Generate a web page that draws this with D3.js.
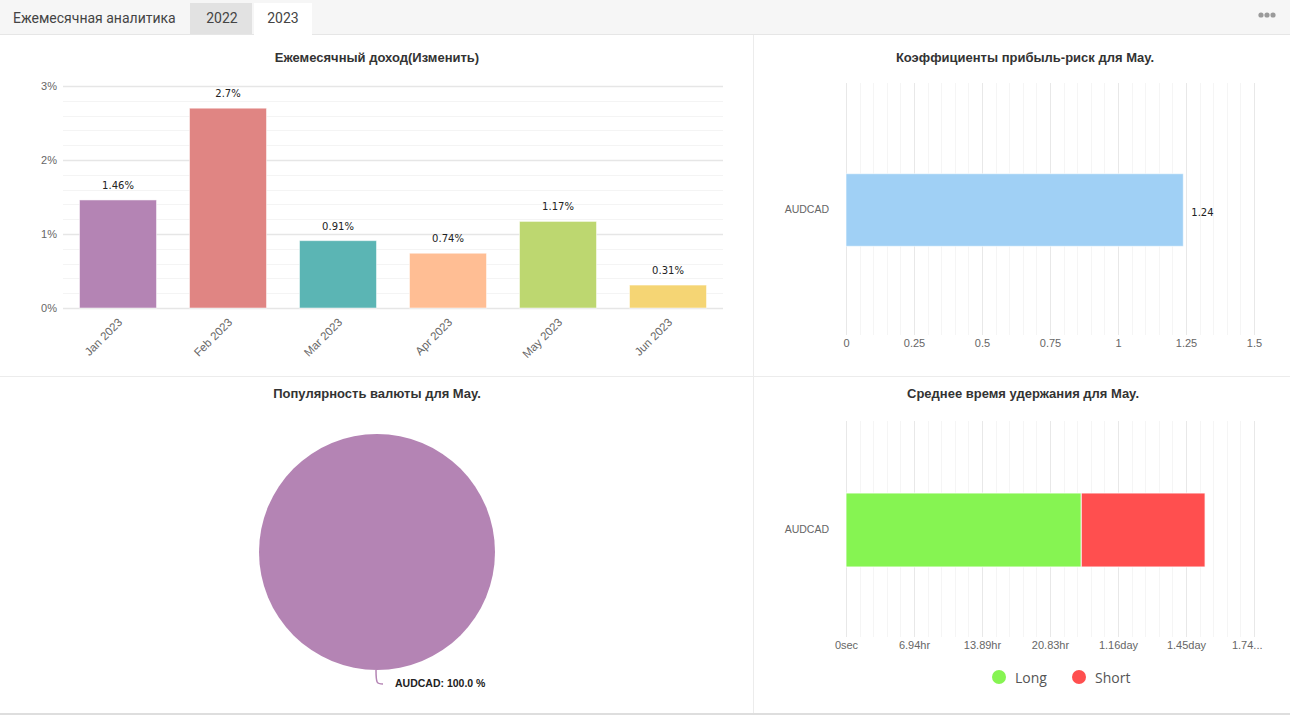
<!DOCTYPE html>
<html>
<head>
<meta charset="utf-8">
<script src="https://cdn.jsdelivr.net/npm/d3@7"></script>
<style>
body { margin: 0; background: #fff; }
svg { display: block; }
.title { font: bold 13px "Liberation Sans", Arial, sans-serif; fill: #333; text-anchor: middle; }
.tick text { font: 11px "Liberation Sans", Arial, sans-serif; fill: #666; }
.val { font: 10px "DejaVu Sans", sans-serif; fill: #222; }
</style>
</head>
<body>
<svg id="canvas" width="1290" height="715"></svg>
<script>
// --- data
const months = ['Jan 2023', 'Feb 2023', 'Mar 2023', 'Apr 2023', 'May 2023', 'Jun 2023'];
const monthlyReturns = [1.46, 2.7, 0.91, 0.74, 1.17, 0.31];
const monthColors = ['#b484b4', '#e08583', '#5bb5b4', '#ffbe94', '#bdd770', '#f5d574'];
const yTicks = [0, 1, 2, 3];

const riskPairs = ['AUDCAD'];
const riskValues = [1.24];
const riskTicks = [0, 0.25, 0.5, 0.75, 1, 1.25, 1.5];

const popPairs = ['AUDCAD'];
const popShares = [100];
const popColors = ['#b484b4'];

const holdPairs = ['AUDCAD'];
const holdLong = [86500];   // seconds
const holdShort = [45500];
const holdTicks = [0, 25000, 50000, 75000, 100000, 125000, 150000];
const holdSeries = ['Long', 'Short'];
const holdColors = ['#86f452', '#ff4f4f'];

const svg = d3.select('#canvas');

// --- header / tabs
svg.append('rect').attr('x', 0).attr('y', 0).attr('width', 1290).attr('height', 34).attr('fill', '#f6f6f6');
svg.append('line').attr('x1', 0).attr('x2', 1290).attr('y1', 34.5).attr('y2', 34.5).attr('stroke', '#e6e6e6');
svg.append('rect').attr('x', 190).attr('y', 3).attr('width', 62).attr('height', 31).attr('fill', '#e2e2e2');
svg.append('rect').attr('x', 254).attr('y', 3).attr('width', 58).attr('height', 32).attr('fill', '#fff');
const tabFont = '14px Roboto, sans-serif';
svg.append('text').attr('x', 13).attr('y', 23).style('font', tabFont).attr('fill', '#444').text('Ежемесячная аналитика');
svg.append('text').attr('x', 222).attr('y', 23).attr('text-anchor', 'middle').style('font', tabFont).attr('fill', '#444').text('2022');
svg.append('text').attr('x', 283).attr('y', 23).attr('text-anchor', 'middle').style('font', tabFont).attr('fill', '#444').text('2023');
[1261, 1267, 1273].forEach(cx => svg.append('circle').attr('cx', cx).attr('cy', 15).attr('r', 2.6).attr('fill', '#9a9a9a'));

// panel dividers
svg.append('line').attr('x1', 753.5).attr('x2', 753.5).attr('y1', 35).attr('y2', 713).attr('stroke', '#ececec');
svg.append('line').attr('x1', 0).attr('x2', 1290).attr('y1', 376.5).attr('y2', 376.5).attr('stroke', '#ececec');
svg.append('rect').attr('x', 0).attr('y', 713).attr('width', 1290).attr('height', 2).attr('fill', '#dedede');

// --- chart 1: monthly return
{
  const g = svg.append('g');
  g.append('text').attr('class', 'title').attr('x', 377).attr('y', 62).text('Ежемесячный доход(Изменить)');
  const x = d3.scaleBand().domain(months).range([63, 723]).paddingInner(0.3).paddingOuter(0.15);
  const y = d3.scaleLinear().domain([0, 3]).range([308, 86]);

  g.selectAll('line.minor').data(d3.range(0, 3.01, 0.2)).join('line')
    .attr('x1', 63).attr('x2', 723)
    .attr('y1', d => Math.round(y(d)) + 0.5).attr('y2', d => Math.round(y(d)) + 0.5)
    .attr('stroke', d => yTicks.includes(Math.round(d * 10) / 10) ? '#e6e6e6' : '#f4f4f4')
    .attr('stroke-width', d => yTicks.includes(Math.round(d * 10) / 10) ? 1.5 : 1);

  g.append('g').attr('transform', 'translate(63,0)')
    .call(d3.axisLeft(y).tickValues(yTicks).tickFormat(d => d + '%').tickSize(0).tickPadding(6))
    .call(a => a.select('.domain').remove());

  g.selectAll('rect.bar').data(monthlyReturns).join('rect')
    .attr('x', (d, i) => x(months[i])).attr('width', x.bandwidth())
    .attr('y', d => y(d)).attr('height', d => y(0) - y(d))
    .attr('fill', (d, i) => monthColors[i])
    .attr('stroke', 'rgba(255,255,255,0.5)');

  g.selectAll('text.val').data(monthlyReturns).join('text').attr('class', 'val')
    .attr('x', (d, i) => x(months[i]) + x.bandwidth() / 2).attr('y', d => y(d) - 11)
    .attr('text-anchor', 'middle').text(d => d + '%');

  g.selectAll('text.mlab').data(months).join('text')
    .attr('transform', d => `translate(${x(d) + x.bandwidth() / 2 + 5},${323}) rotate(-45)`)
    .attr('text-anchor', 'end').style('font', '11.5px "Liberation Sans", Arial, sans-serif').attr('fill', '#666')
    .text(d => d);
}

// helper for horizontal bar panels
function hGrid(g, x, ticks, step, top, bottom) {
  const all = d3.range(x.domain()[0], x.domain()[1] + step / 2, step);
  g.selectAll('line.g').data(all).join('line')
    .attr('x1', d => Math.round(x(d)) + 0.5).attr('x2', d => Math.round(x(d)) + 0.5)
    .attr('y1', top).attr('y2', bottom)
    .attr('stroke', d => ticks.some(t => Math.abs(t - d) < step / 10) ? '#e8e8e8' : '#f5f5f5');
}

// --- chart 2: profit-risk
{
  const g = svg.append('g');
  g.append('text').attr('class', 'title').attr('x', 1025).attr('y', 62).text('Коэффициенты прибыль-риск для May.');
  const x = d3.scaleLinear().domain([0, 1.5]).range([846, 1254]);
  const y = d3.scaleBand().domain(riskPairs).range([85, 335]).padding(0.55);
  hGrid(g, x, riskTicks, 0.05, 83, 335);
  g.append('g').attr('transform', 'translate(0,335)')
    .call(d3.axisBottom(x).tickValues(riskTicks).tickFormat(d3.format('')).tickSize(0).tickPadding(4))
    .call(a => a.select('.domain').remove());
  g.append('g').attr('transform', 'translate(846,0)')
    .call(d3.axisLeft(y).tickSize(0).tickPadding(17))
    .call(a => a.select('.domain').remove())
    .call(a => a.selectAll('text').style('font-size', '10.5px'));
  g.selectAll('rect.bar').data(riskValues).join('rect')
    .attr('x', x(0)).attr('width', d => x(d) - x(0))
    .attr('y', (d, i) => y(riskPairs[i])).attr('height', y.bandwidth())
    .attr('fill', '#a0d0f5').attr('stroke', 'rgba(255,255,255,0.6)');
  g.selectAll('text.val').data(riskValues).join('text').attr('class', 'val')
    .attr('x', d => x(d) + 8).attr('y', (d, i) => y(riskPairs[i]) + y.bandwidth() / 2 + 6)
    .text(d => d);
}

// --- chart 3: currency popularity
{
  const g = svg.append('g');
  g.append('text').attr('class', 'title').attr('x', 377).attr('y', 398).text('Популярность валюты для May.');
  const cx = 377, cy = 552, r = 118;
  const arcs = d3.pie().sort(null)(popShares);
  const arc = d3.arc().innerRadius(0).outerRadius(r);
  const pg = g.append('g').attr('transform', `translate(${cx},${cy})`);
  pg.selectAll('path.slice').data(arcs).join('path')
    .attr('d', arc).attr('fill', (d, i) => popColors[i]);
  arcs.forEach((a, i) => {
    const mid = (a.startAngle + a.endAngle) / 2;
    const px = Math.sin(mid) * r, py = -Math.cos(mid) * r;
    pg.append('path')
      .attr('d', `M${px - 1},${py} C${px - 1},${py + 14} ${px},${py + 14} ${px + 6},${py + 14}`)
      .attr('fill', 'none').attr('stroke', popColors[i]).attr('stroke-width', 1.5);
    pg.append('text').attr('x', px + 18).attr('y', py + 17)
      .style('font', 'bold 10.5px "Liberation Sans", Arial, sans-serif').attr('fill', '#222')
      .text(`${popPairs[i]}: ${popShares[i].toFixed(1)} %`);
  });
}

// --- chart 4: average holding time
{
  const g = svg.append('g');
  g.append('text').attr('class', 'title').attr('x', 1023).attr('y', 398).text('Среднее время удержания для May.');
  const x = d3.scaleLinear().domain([0, 150000]).range([846, 1254]);
  const y = d3.scaleBand().domain(holdPairs).range([422, 638]).padding(0.49);
  hGrid(g, x, holdTicks, 5000, 421, 637);
  const fmt = s => {
    if (s === 0) return '0sec';
    if (s < 86400) return d3.format('.2f')(s / 3600) + 'hr';
    return d3.format('.2f')(s / 86400) + 'day';
  };
  const ax = g.append('g').attr('transform', 'translate(0,637)')
    .call(d3.axisBottom(x).tickValues(holdTicks).tickFormat(fmt).tickSize(0).tickPadding(4))
    .call(a => a.select('.domain').remove());
  // last label does not fit the panel: shorten it
  ax.selectAll('.tick text').filter(d => d === holdTicks[holdTicks.length - 1])
    .attr('text-anchor', 'end').attr('dx', 8).text(t => fmt(t).slice(0, 4) + '...');
  g.append('g').attr('transform', 'translate(846,0)')
    .call(d3.axisLeft(y).tickSize(0).tickPadding(17))
    .call(a => a.select('.domain').remove())
    .call(a => a.selectAll('text').style('font-size', '10.5px'));

  const stack = d3.stack().keys(holdSeries)(holdPairs.map((p, i) => ({ pair: p, Long: holdLong[i], Short: holdShort[i] })));
  stack.forEach((layer, k) => {
    g.selectAll('rect.s' + k).data(layer).join('rect')
      .attr('x', d => x(d[0])).attr('width', d => x(d[1]) - x(d[0]))
      .attr('y', d => y(d.data.pair)).attr('height', y.bandwidth())
      .attr('fill', holdColors[k]).attr('stroke', 'rgba(255,255,255,0.8)');
  });

  const lg = g.append('g');
  holdSeries.forEach((s, i) => {
    const lx = 999 + i * 80;
    lg.append('circle').attr('cx', lx).attr('cy', 677).attr('r', 7).attr('fill', holdColors[i]);
    lg.append('text').attr('x', lx + 16).attr('y', 683)
      .style('font', '14px "Open Sans", sans-serif').attr('fill', '#555').text(s);
  });
}
</script>
</body>
</html>
